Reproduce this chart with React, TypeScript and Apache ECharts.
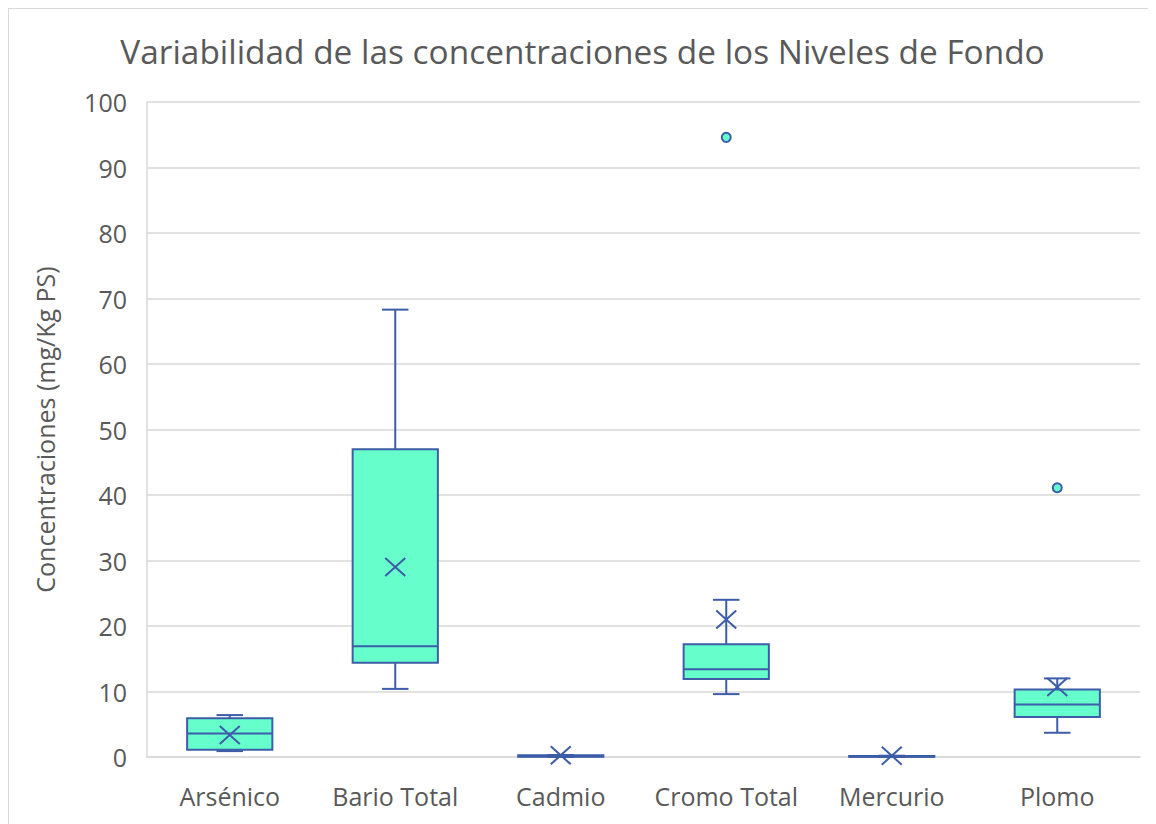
import React, { useEffect, useRef } from "react";
import * as echarts from "echarts";

const categories = ["Arsénico", "Bario Total", "Cadmio", "Cromo Total", "Mercurio", "Plomo"];
const mins = [0.9, 10.4, 0.02, 9.6, 0.01, 3.7];
const q1s = [1.1, 14.4, 0.03, 11.9, 0.02, 6.1];
const medians = [3.6, 16.9, 0.1, 13.4, 0.05, 8.0];
const q3s = [5.9, 47.0, 0.25, 17.2, 0.15, 10.3];
const maxs = [6.4, 68.3, 0.3, 24.0, 0.2, 12.0];
const means = [3.35, 29.0, 0.25, 21.0, 0.2, 10.7];
const outlierCats = [3, 5];
const outlierValues = [94.6, 41.1];

const FILL = "#66FFCC";
const STROKE = "#3D5DA8";
const TEXT = "#595959";
const GRID = "#d9d9d9";
const FONT = "'Open Sans', 'Noto Sans', sans-serif";

export default function App() {
  const ref = useRef<HTMLDivElement>(null);
  useEffect(() => {
    if (!ref.current) return;
    const chart = echarts.init(ref.current, null, { renderer: "svg" });
    const boxData = categories.map((_, i) => [i, mins[i], q1s[i], medians[i], q3s[i], maxs[i], means[i]]);
    const outlierData = outlierCats.map((c, i) => [c, outlierValues[i]]);
    chart.setOption({
      animation: false,
      backgroundColor: "#ffffff",
      title: {
        text: "Variabilidad de las concentraciones de los Niveles de Fondo",
        left: "center",
        top: 20,
        textStyle: { fontFamily: FONT, fontSize: 33.4, fontWeight: "normal", color: TEXT },
      },
      grid: { left: 138, right: 16, top: 93, bottom: 67 },
      xAxis: {
        type: "category",
        data: categories,
        axisTick: { show: false },
        axisLine: { show: true, lineStyle: { color: GRID, width: 1.5 } },
        axisLabel: { color: TEXT, fontSize: 25, fontFamily: FONT, margin: 26, interval: 0, hideOverlap: false },
        splitLine: { show: false },
      },
      yAxis: {
        type: "value",
        min: 0,
        max: 100,
        interval: 10,
        name: "Concentraciones (mg/Kg PS)",
        nameLocation: "middle",
        nameGap: 90,
        nameTextStyle: { color: TEXT, fontSize: 25, fontFamily: FONT },
        axisLine: { show: true, lineStyle: { color: GRID, width: 1.5 } },
        axisTick: { show: false },
        axisLabel: { color: TEXT, fontSize: 25, fontFamily: FONT, margin: 20 },
        splitLine: { show: true, lineStyle: { color: GRID, width: 1.5 } },
      },
      series: [
        {
          type: "custom",
          data: boxData,
          encode: { x: 0, y: [1, 2, 3, 4, 5] },
          renderItem: (params: any, api: any) => {
            const idx = api.value(0);
            const pMin = api.coord([idx, api.value(1)]);
            const pQ1 = api.coord([idx, api.value(2)]);
            const pMed = api.coord([idx, api.value(3)]);
            const pQ3 = api.coord([idx, api.value(4)]);
            const pMax = api.coord([idx, api.value(5)]);
            const pMean = api.coord([idx, api.value(6)]);
            const band = api.size([1, 0])[0];
            const bw = band * 0.515;
            const cw = band * 0.16;
            const x = pMin[0];
            const ls = { stroke: STROKE, lineWidth: 2 };
            return {
              type: "group",
              children: [
                { type: "line", shape: { x1: x, y1: pMax[1], x2: x, y2: pQ3[1] }, style: ls },
                { type: "line", shape: { x1: x, y1: pQ1[1], x2: x, y2: pMin[1] }, style: ls },
                { type: "line", shape: { x1: x - cw / 2, y1: pMax[1], x2: x + cw / 2, y2: pMax[1] }, style: ls },
                { type: "line", shape: { x1: x - cw / 2, y1: pMin[1], x2: x + cw / 2, y2: pMin[1] }, style: ls },
                {
                  type: "rect",
                  shape: { x: x - bw / 2, y: pQ3[1], width: bw, height: pQ1[1] - pQ3[1] },
                  style: { fill: FILL, stroke: STROKE, lineWidth: 2 },
                },
                { type: "line", shape: { x1: x - bw / 2, y1: pMed[1], x2: x + bw / 2, y2: pMed[1] }, style: ls },
                { type: "line", shape: { x1: x - 10, y1: pMean[1] - 9, x2: x + 10, y2: pMean[1] + 9 }, style: ls },
                { type: "line", shape: { x1: x - 10, y1: pMean[1] + 9, x2: x + 10, y2: pMean[1] - 9 }, style: ls },
              ],
            };
          },
          z: 3,
        },
        {
          type: "scatter",
          data: outlierData,
          symbol: "circle",
          symbolSize: 9,
          itemStyle: { color: FILL, borderColor: STROKE, borderWidth: 2, opacity: 1 },
          z: 4,
        },
      ],
    });
    return () => chart.dispose();
  }, []);
  return (
    <div
      ref={ref}
      style={{
        width: 1148,
        height: 816,
        boxSizing: "border-box",
        borderTop: "1px solid #d9d9d9",
        borderLeft: "1px solid #d9d9d9",
      }}
    />
  );
}
